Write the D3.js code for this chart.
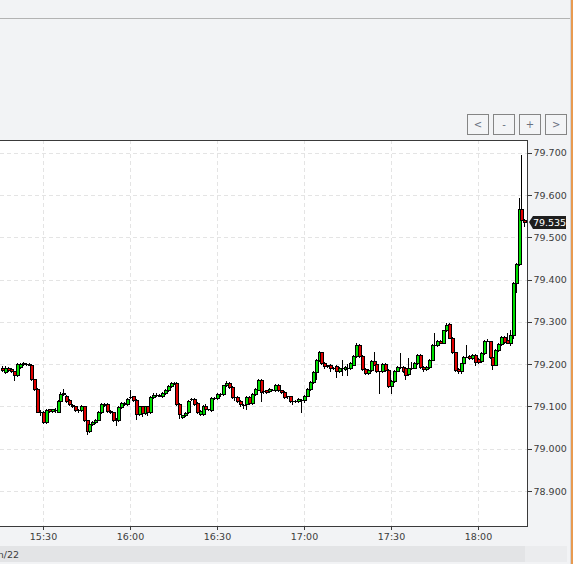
<!DOCTYPE html>
<html><head><meta charset="utf-8">
<script src="https://cdn.jsdelivr.net/npm/d3@7"></script>
<style>html,body{margin:0;padding:0;background:#f2f3f5;overflow:hidden}svg{display:block}</style>
</head><body>
<script>
const times = [
"15:16","15:17","15:18","15:19","15:20","15:21","15:22","15:23","15:24","15:25",
"15:26","15:27","15:28","15:29","15:30","15:31","15:32","15:33","15:34","15:35",
"15:36","15:37","15:38","15:39","15:40","15:41","15:42","15:43","15:44","15:45",
"15:46","15:47","15:48","15:49","15:50","15:51","15:52","15:53","15:54","15:55",
"15:56","15:57","15:58","15:59","16:00","16:01","16:02","16:03","16:04","16:05",
"16:06","16:07","16:08","16:09","16:10","16:11","16:12","16:13","16:14","16:15",
"16:16","16:17","16:18","16:19","16:20","16:21","16:22","16:23","16:24","16:25",
"16:26","16:27","16:28","16:29","16:30","16:31","16:32","16:33","16:34","16:35",
"16:36","16:37","16:38","16:39","16:40","16:41","16:42","16:43","16:44","16:45",
"16:46","16:47","16:48","16:49","16:50","16:51","16:52","16:53","16:54","16:55",
"16:56","16:57","16:58","16:59","17:00","17:01","17:02","17:03","17:04","17:05",
"17:06","17:07","17:08","17:09","17:10","17:11","17:12","17:13","17:14","17:15",
"17:16","17:17","17:18","17:19","17:20","17:21","17:22","17:23","17:24","17:25",
"17:26","17:27","17:28","17:29","17:30","17:31","17:32","17:33","17:34","17:35",
"17:36","17:37","17:38","17:39","17:40","17:41","17:42","17:43","17:44","17:45",
"17:46","17:47","17:48","17:49","17:50","17:51","17:52","17:53","17:54","17:55",
"17:56","17:57","17:58","17:59","18:00","18:01","18:02","18:03","18:04","18:05",
"18:06","18:07","18:08","18:09","18:10","18:11","18:12","18:13","18:14","18:15","18:16"];

const open = [
79.190,79.182,79.192,79.188,79.183,79.175,79.194,79.200,79.201,79.200,
79.199,79.164,79.142,79.088,79.088,79.064,79.093,79.089,79.092,79.088,
79.113,79.130,79.125,79.115,79.104,79.100,79.092,79.092,79.100,79.067,
79.043,79.058,79.064,79.069,79.087,79.104,79.106,79.090,79.086,79.067,
79.068,79.098,79.108,79.105,79.122,79.124,79.116,79.083,79.100,79.084,
79.100,79.086,79.122,79.127,79.127,79.125,79.132,79.139,79.148,79.156,
79.156,79.106,79.074,79.079,79.086,79.117,79.118,79.108,79.083,79.083,
79.102,79.093,79.091,79.120,79.120,79.130,79.130,79.150,79.155,79.146,
79.123,79.122,79.113,79.104,79.105,79.123,79.108,79.129,79.140,79.162,
79.136,79.138,79.136,79.140,79.139,79.152,79.138,79.134,79.124,79.124,
79.113,79.114,79.112,79.116,79.115,79.126,79.142,79.158,79.182,79.210,
79.228,79.203,79.196,79.198,79.192,79.195,79.183,79.191,79.189,79.191,
79.191,79.199,79.219,79.246,79.220,79.188,79.179,79.186,79.207,79.200,
79.183,79.183,79.201,79.187,79.149,79.160,79.185,79.193,79.193,79.190,
79.176,79.191,79.192,79.203,79.222,79.194,79.188,79.193,79.211,79.246,
79.246,79.256,79.251,79.280,79.294,79.263,79.228,79.189,79.185,79.202,
79.218,79.220,79.214,79.222,79.212,79.208,79.226,79.256,79.254,79.216,
79.199,79.233,79.247,79.264,79.258,79.251,79.270,79.393,79.437,79.567,79.542];

const high = [
79.195,79.196,79.194,79.190,79.185,79.202,79.203,79.206,79.203,79.202,
79.201,79.166,79.144,79.092,79.090,79.094,79.095,79.095,79.096,79.115,
79.135,79.142,79.127,79.117,79.106,79.102,79.094,79.104,79.102,79.069,
79.060,79.066,79.071,79.089,79.108,79.109,79.108,79.092,79.088,79.072,
79.100,79.110,79.110,79.120,79.138,79.126,79.118,79.102,79.102,79.102,
79.102,79.124,79.131,79.132,79.129,79.134,79.142,79.150,79.158,79.158,
79.158,79.108,79.081,79.087,79.116,79.120,79.120,79.110,79.092,79.104,
79.105,79.095,79.122,79.122,79.132,79.132,79.152,79.160,79.157,79.148,
79.125,79.124,79.115,79.106,79.125,79.125,79.132,79.144,79.165,79.164,
79.138,79.140,79.144,79.142,79.154,79.154,79.140,79.136,79.126,79.126,
79.115,79.116,79.120,79.118,79.128,79.144,79.160,79.184,79.212,79.231,
79.230,79.205,79.199,79.200,79.194,79.197,79.193,79.210,79.195,79.200,
79.205,79.221,79.250,79.248,79.222,79.190,79.189,79.209,79.230,79.202,
79.185,79.203,79.203,79.189,79.162,79.187,79.195,79.226,79.195,79.192,
79.215,79.205,79.205,79.224,79.224,79.196,79.195,79.213,79.248,79.274,
79.258,79.258,79.282,79.298,79.298,79.265,79.230,79.191,79.204,79.220,
79.246,79.222,79.224,79.224,79.214,79.228,79.258,79.260,79.256,79.218,
79.235,79.249,79.266,79.266,79.274,79.280,79.395,79.439,79.592,79.695,79.544];

const low = [
79.185,79.180,79.184,79.182,79.163,79.173,79.192,79.198,79.199,79.198,
79.162,79.140,79.086,79.080,79.062,79.060,79.087,79.087,79.088,79.086,
79.111,79.128,79.111,79.103,79.098,79.090,79.088,79.090,79.065,79.035,
79.040,79.056,79.062,79.067,79.085,79.102,79.087,79.084,79.065,79.057,
79.066,79.096,79.104,79.103,79.120,79.114,79.070,79.081,79.078,79.082,
79.080,79.084,79.120,79.125,79.124,79.123,79.130,79.137,79.146,79.154,
79.104,79.073,79.072,79.077,79.084,79.115,79.104,79.085,79.080,79.081,
79.092,79.091,79.089,79.118,79.118,79.124,79.128,79.148,79.144,79.120,
79.115,79.111,79.100,79.097,79.095,79.106,79.106,79.127,79.138,79.114,
79.132,79.132,79.134,79.138,79.137,79.136,79.132,79.120,79.120,79.111,
79.107,79.110,79.110,79.087,79.110,79.124,79.140,79.156,79.165,79.208,
79.201,79.190,79.194,79.185,79.189,79.170,79.181,79.175,79.187,79.175,
79.189,79.197,79.217,79.218,79.186,79.177,79.177,79.184,79.197,79.181,
79.133,79.181,79.185,79.147,79.133,79.158,79.183,79.191,79.181,79.165,
79.174,79.189,79.190,79.201,79.192,79.183,79.186,79.191,79.209,79.244,
79.244,79.249,79.249,79.278,79.261,79.226,79.184,79.180,79.180,79.200,
79.216,79.212,79.212,79.198,79.204,79.206,79.224,79.254,79.214,79.188,
79.197,79.231,79.245,79.250,79.249,79.245,79.262,79.371,79.435,79.527,79.527];

const close = [
79.187,79.192,79.186,79.184,79.175,79.200,79.201,79.202,79.201,79.199,
79.164,79.142,79.088,79.088,79.064,79.092,79.089,79.093,79.092,79.113,
79.130,79.131,79.113,79.105,79.100,79.092,79.092,79.100,79.067,79.043,
79.058,79.064,79.069,79.087,79.106,79.106,79.089,79.086,79.067,79.070,
79.098,79.108,79.107,79.118,79.123,79.116,79.083,79.100,79.084,79.100,
79.086,79.122,79.127,79.127,79.126,79.132,79.140,79.148,79.156,79.156,
79.106,79.083,79.079,79.085,79.114,79.118,79.106,79.087,79.090,79.102,
79.094,79.093,79.120,79.120,79.130,79.130,79.150,79.155,79.146,79.122,
79.123,79.113,79.105,79.104,79.123,79.108,79.130,79.142,79.162,79.134,
79.136,79.134,79.142,79.140,79.152,79.138,79.134,79.122,79.124,79.113,
79.113,79.114,79.118,79.116,79.126,79.142,79.158,79.182,79.210,79.228,
79.203,79.195,79.197,79.192,79.192,79.183,79.191,79.191,79.193,79.191,
79.203,79.219,79.246,79.220,79.188,79.179,79.187,79.207,79.199,79.183,
79.183,79.201,79.187,79.149,79.160,79.185,79.193,79.193,79.183,79.175,
79.192,79.191,79.203,79.222,79.194,79.188,79.193,79.211,79.246,79.246,
79.256,79.251,79.280,79.292,79.263,79.228,79.186,79.184,79.202,79.218,
79.218,79.214,79.222,79.206,79.206,79.226,79.256,79.256,79.216,79.199,
79.233,79.247,79.264,79.252,79.251,79.270,79.393,79.437,79.567,79.542,79.535];

const xTickLabels = ["15:30","16:00","16:30","17:00","17:30","18:00"];
const yTickValues = [78.9,79.0,79.1,79.2,79.3,79.4,79.5,79.6,79.7];
const lastPrice = 79.535;
const dateLabel = "Jun/22";
const buttonLabels = ["<","-","+",">"];

const W = 573, H = 564;
const plot = {left: 0, right: 527, top: 140, bottom: 526};
const parse = d3.timeParse("%H:%M:%S");
const pm = s => parse(s + ":00");

const x = d3.scaleTime()
  .domain([parse("15:15:10"), parse("18:16:54")])
  .range([plot.left, plot.right]);
const y = d3.scaleLinear()
  .domain([78.8175, 79.730])
  .range([plot.bottom, plot.top]);

const FONT = "'DejaVu Sans', sans-serif";
const FS = 9.5;
const svg = d3.select("body").append("svg").attr("width", W).attr("height", H)
  .attr("shape-rendering", "crispEdges");

svg.append("rect").attr("width", W).attr("height", H).attr("fill", "#f2f3f5");
svg.append("line").attr("x1", 0).attr("x2", 570).attr("y1", 18.5).attr("y2", 18.5)
  .attr("stroke", "#b3b3b3").attr("stroke-width", 1.5);

svg.append("rect").attr("x", 570).attr("y", 0).attr("width", 1).attr("height", H).attr("fill", "#d4d5d8");
svg.append("rect").attr("x", 571).attr("y", 0).attr("width", 2).attr("height", H).attr("fill", "#e89a50");

svg.append("rect").attr("x", plot.left).attr("y", plot.top)
  .attr("width", plot.right - plot.left).attr("height", plot.bottom - plot.top)
  .attr("fill", "#ffffff");

svg.append("defs").append("clipPath").attr("id", "clip").append("rect")
  .attr("x", plot.left).attr("y", plot.top + 1)
  .attr("width", plot.right - plot.left).attr("height", plot.bottom - plot.top - 1);

const grid = svg.append("g").attr("stroke", "#e4e4e4").attr("stroke-dasharray", "4,3");
grid.selectAll("line.h").data(yTickValues).join("line")
  .attr("x1", plot.left).attr("x2", plot.right)
  .attr("y1", d => Math.round(y(d)) + 0.5).attr("y2", d => Math.round(y(d)) + 0.5);
grid.selectAll("line.v").data(xTickLabels).join("line")
  .attr("x1", d => Math.round(x(pm(d))) + 0.5).attr("x2", d => Math.round(x(pm(d))) + 0.5)
  .attr("y1", plot.top).attr("y2", plot.bottom);

const candles = times.map((t, i) => ({t: pm(t), o: open[i], h: high[i], l: low[i], c: close[i]}));
const cg = svg.append("g").attr("clip-path", "url(#clip)");
const cs = cg.selectAll("g").data(candles).join("g");
cs.append("line")
  .attr("x1", d => Math.round(x(d.t)) + 0.5).attr("x2", d => Math.round(x(d.t)) + 0.5)
  .attr("y1", d => Math.round(y(d.h))).attr("y2", d => Math.round(y(d.l)) + 1)
  .attr("stroke", "#000").attr("stroke-width", 1);
cs.each(function(d) {
  const g = d3.select(this);
  const xc = Math.round(x(d.t));
  const yt = Math.round(y(Math.max(d.o, d.c)));
  const yb = Math.round(y(Math.min(d.o, d.c)));
  if (yb - yt < 2) {
    g.append("rect").attr("x", xc - 1).attr("y", yt).attr("width", 4).attr("height", Math.max(1, yb - yt + 1))
      .attr("fill", "#000");
  } else {
    g.append("rect").attr("x", xc - 1).attr("y", yt).attr("width", 4).attr("height", yb - yt + 1)
      .attr("fill", "#000");
    g.append("rect").attr("x", xc).attr("y", yt + 1).attr("width", 2).attr("height", yb - yt - 1)
      .attr("fill", d.c >= d.o ? "#00e000" : "#e00000");
  }
});

const frame = svg.append("g").attr("stroke", "#3a3a3a").attr("stroke-width", 1);
frame.append("line").attr("x1", plot.left).attr("x2", plot.right + 1).attr("y1", plot.top + 0.5).attr("y2", plot.top + 0.5);
frame.append("line").attr("x1", plot.right + 0.5).attr("x2", plot.right + 0.5).attr("y1", plot.top).attr("y2", plot.bottom + 1);
frame.append("line").attr("x1", plot.left).attr("x2", plot.right + 1).attr("y1", plot.bottom + 0.5).attr("y2", plot.bottom + 0.5);

const yAxis = d3.axisRight(y).tickValues(yTickValues).tickFormat(d3.format(".3f")).tickSize(4).tickPadding(2);
const ya = svg.append("g").attr("transform", `translate(${plot.right + 0.5},0)`).call(yAxis);
ya.select(".domain").remove();
ya.selectAll(".tick line").attr("stroke", "#3a3a3a");
ya.selectAll(".tick text").attr("fill", "#3c3c3c").attr("font-family", FONT).attr("font-size", FS);

const xAxis = d3.axisBottom(x).tickValues(xTickLabels.map(pm)).tickFormat(d3.timeFormat("%H:%M")).tickSize(3).tickPadding(4);
const xa = svg.append("g").attr("transform", `translate(0,${plot.bottom + 0.5})`).call(xAxis);
xa.select(".domain").remove();
xa.selectAll(".tick line").attr("stroke", "#3a3a3a");
xa.selectAll(".tick text").attr("fill", "#3c3c3c").attr("font-family", FONT).attr("font-size", FS);

svg.append("rect").attr("x", 0).attr("y", 546).attr("width", 525).attr("height", 16).attr("fill", "#e3e4e6");
svg.append("rect").attr("x", 525).attr("y", 546).attr("width", 42).attr("height", 16).attr("fill", "#ebecee");
svg.append("text").attr("x", 19).attr("y", 554).attr("text-anchor", "end").attr("dominant-baseline", "central")
  .attr("font-family", FONT).attr("font-size", FS).attr("fill", "#3c3c3c").text(dateLabel);

const yl = Math.round(y(lastPrice));
svg.append("path")
  .attr("d", `M529,${yl} L533,${yl - 6} L566,${yl - 6} L566,${yl + 7} L533,${yl + 7} Z`)
  .attr("fill", "#1e1e1e").attr("shape-rendering", "auto");
svg.append("text").attr("x", 549.5).attr("y", yl + 0.5).attr("text-anchor", "middle").attr("dominant-baseline", "central")
  .attr("font-family", FONT).attr("font-size", FS).attr("fill", "#ffffff").text(lastPrice.toFixed(3));

const bx = d3.scaleBand().domain(buttonLabels).range([467, 566]).paddingInner(0.2);
const bg = svg.append("g").selectAll("g").data(buttonLabels).join("g");
bg.append("rect").attr("x", d => Math.round(bx(d)) + 0.5).attr("y", 114.5)
  .attr("width", Math.round(bx.bandwidth())).attr("height", 20)
  .attr("fill", "#f3f4f6").attr("stroke", "#858585").attr("stroke-width", 1.5);
bg.append("text").attr("x", d => bx(d) + bx.bandwidth() / 2 + 0.5).attr("y", 124.5)
  .attr("text-anchor", "middle").attr("dominant-baseline", "central")
  .attr("font-family", FONT).attr("font-size", 10).attr("fill", "#6a7080").text(d => d);
</script>
</body></html>
